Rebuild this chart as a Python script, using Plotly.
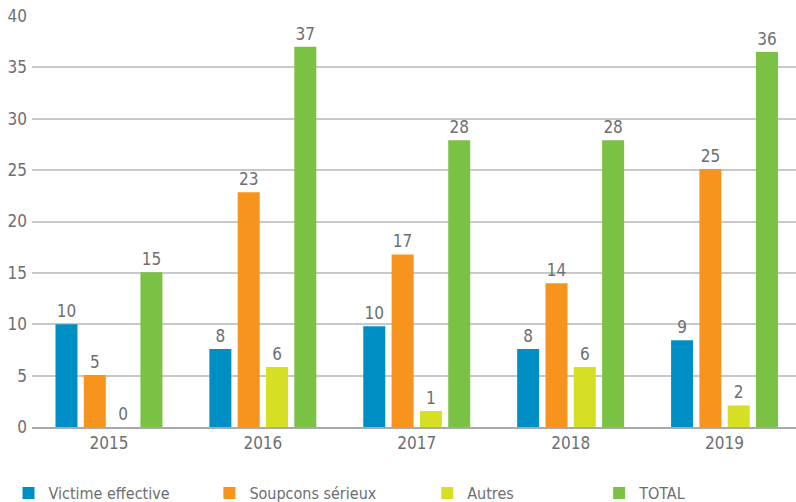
import plotly.graph_objects as go

years = ["2015", "2016", "2017", "2018", "2019"]
series_names = ["Victime effective", "Soupcons sérieux", "Autres", "TOTAL"]
victime = [10.0, 7.6, 9.8, 7.6, 8.45]
soupcons = [5.05, 22.85, 16.8, 14.0, 25.1]
autres = [0.0, 5.85, 1.55, 5.85, 2.1]
total = [15.05, 37.0, 27.9, 27.9, 36.5]
victime_lbl = ["10", "8", "10", "8", "9"]
soupcons_lbl = ["5", "23", "17", "14", "25"]
autres_lbl = ["0", "6", "1", "6", "2"]
total_lbl = ["15", "37", "28", "28", "36"]
colors = ["#008fc5", "#f7941d", "#d6df23", "#7bc143"]
y_ticks = [0, 5, 10, 15, 20, 25, 30, 35, 40]

FONT = "Liberation Sans Narrow, DejaVu Sans Condensed, Roboto, sans-serif"
GREY = "#6d6e71"

fig = go.Figure()
values = [victime, soupcons, autres, total]
labels = [victime_lbl, soupcons_lbl, autres_lbl, total_lbl]
legend_ids = ["legend", "legend2", "legend3", "legend4"]
for name, vals, lbl, col, lg in zip(series_names, values, labels, colors, legend_ids):
    fig.add_trace(go.Bar(
        x=years, y=vals, name=name, text=lbl,
        textposition="outside", constraintext="none", cliponaxis=False,
        textfont=dict(family=FONT, size=17, color=GREY),
        marker=dict(color=col, line=dict(width=0)),
        legend=lg,
    ))

W, H = 796, 502
ml, mt, mb = 31.5, 16, 75
plot_w = W - ml
plot_h = H - mt - mb

def px_to_paper_x(px):
    return (px - ml) / plot_w

def py_to_paper_y(py):
    return (H - mb - py) / plot_h

legend_x_px = [8, 209, 427, 599]
leg_common = dict(orientation="h", yanchor="middle", xanchor="left",
                  font=dict(family=FONT, size=16, color=GREY),
                  bgcolor="rgba(0,0,0,0)", itemwidth=30)
layout_legends = {}
for lg, xp in zip(legend_ids, legend_x_px):
    layout_legends[lg] = dict(x=px_to_paper_x(xp), y=py_to_paper_y(493), **leg_common)

fig.update_layout(
    width=W, height=H,
    margin=dict(l=ml, r=0, t=mt, b=mb, autoexpand=False),
    paper_bgcolor="white", plot_bgcolor="white",
    barmode="group", bargap=0.264, bargroupgap=0.223,
    showlegend=True,
    font=dict(family=FONT, size=16, color=GREY),
    xaxis=dict(range=[-0.5, 4.5 - 5.5 / 154], showgrid=False, showline=True,
               linecolor="#a7a9ac", linewidth=1.5, ticks="", automargin=False,
               tickfont=dict(family=FONT, size=17, color=GREY)),
    yaxis=dict(range=[0, 40], tickvals=y_ticks, showgrid=True,
               gridcolor="#c7c8ca", gridwidth=1.5, zeroline=False,
               showline=False, ticks="", ticklabelstandoff=4, automargin=False,
               tickfont=dict(family=FONT, size=17, color=GREY)),
    **layout_legends,
)

fig.write_html("out.html",
               config={"displayModeBar": False},
               post_script="document.body.style.margin='0';document.body.style.overflow='hidden';")
